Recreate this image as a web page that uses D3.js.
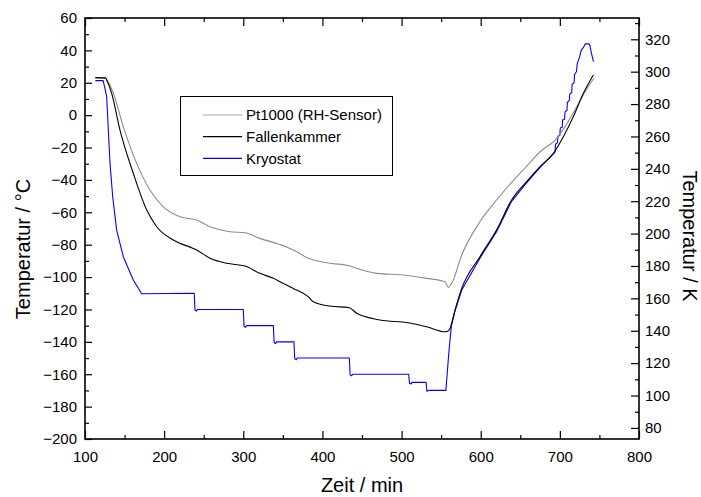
<!DOCTYPE html>
<html><head><meta charset="utf-8">
<script src="https://cdn.jsdelivr.net/npm/d3@7"></script>
<style>body{margin:0;background:#fff}svg{display:block}text{font-family:"Liberation Sans",Arial,sans-serif;fill:#000}</style>
</head><body><svg id="c" width="701" height="497"></svg>
<script>
// ---- data ----
const xTicks = [100,200,300,400,500,600,700,800];
const yTicksC = [-200,-180,-160,-140,-120,-100,-80,-60,-40,-20,0,20,40,60];
const yTicksK = [80,100,120,140,160,180,200,220,240,260,280,300,320];
const seriesNames = ["Pt1000 (RH-Sensor)","Fallenkammer","Kryostat"];
const seriesColors = ["#8c8c8c","#000000","#0000ff"];

const ptTime = [113,125,130,135.8,148.4,165.3,182,199,220,241,258,283,302,321,342,346,365,382,388.5,409.6,434,443,468.5,502,531.7,555,559,563.3,576,599,620,640,660,675,694,706.5,719,732,743];
const ptTemp = [23.2,23,20,13.5,-7.1,-29.8,-46.2,-56.6,-62.7,-64.8,-68.9,-72,-72.6,-76.1,-79.2,-79.8,-83.7,-88.4,-89.5,-91.5,-93,-94.6,-97.7,-98.7,-100.8,-102.9,-106.4,-103.9,-86.4,-65.8,-52.4,-41,-30.5,-22.6,-15.4,-7.1,3.2,14.5,22.8];

const fkTime = [113,126,127.4,133.7,144.2,161,178,190.6,211.6,236.8,240,258,279,302.2,321,338,346.4,363.2,382,388.5,409.6,434,443.3,472.7,508.5,531.7,555,558,561.2,567.5,576,599,620,639,660,675,691.8,704.4,717,729.7,742.3];
const fkTemp = [23.2,23,21.7,13.5,-9.2,-35.9,-58.6,-68.9,-77.1,-82.3,-83,-88.4,-91.5,-93.2,-97.7,-100.8,-102.9,-107,-112.1,-115.2,-117.9,-118.9,-122.4,-126.5,-128.2,-130.7,-133.8,-133.5,-131.7,-120.4,-107,-87.4,-71,-52.4,-40,-31.8,-23.6,-13.3,-1,13.5,24.8];

const krTime = [113,123,127.4,129.5,131.6,135,140,148.4,161,171.6,238,239,241,242,300,301,303,304,338,339,341,342,364,365,367,368,434,435,437,438,509,510,512,513,531,532,534,556,557,560,563,567.5,576,599,620,639,660,675,693.9,694.5,697,697.5,700,700.5,703,703.5,706,706.5,709,709.5,712,712.5,715,715.5,718,718.5,721,722,725,727,730,732,737,738,740,742.5];
const krTemp = [21.3,21.3,11.4,-9.2,-29.8,-50.4,-71,-87.4,-101.8,-110.3,-110,-120.5,-121,-120,-120,-130.5,-131,-130,-130,-140.5,-141,-140,-140,-150.5,-151,-150,-150,-160.5,-161,-160,-160,-165.5,-166,-165,-165,-170.5,-170,-170,-163.6,-145,-130,-121,-108,-88.3,-72,-53.2,-40.6,-32.3,-22.8,-18,-17,-13,-12.5,-8,-7.5,-3,-2.5,2,3,8,9,13,14,19,20,25,27,32,36,40,42,44,44,43,38,33];

// ---- layout ----
const L=85,R=639,T=18,B=439;
const svg=d3.select("#c");
const x=d3.scaleLinear().domain([100,800]).range([L,R]);
const y=d3.scaleLinear().domain([-200,60]).range([B,T]);
const yK=d3.scaleLinear().domain([-200+273.15,60+273.15]).range([B,T]);

const minorX=d3.range(150,800,100);
const minorC=d3.range(-190,60,20);
const minorK=d3.range(90,340,20).filter(v=>yK(v)>=T-0.5&&yK(v)<=B+0.5);

function styleAxis(g){g.select(".domain").remove();g.selectAll("line").attr("stroke","#000").attr("stroke-width",1.2);g.selectAll("text").style("font-size","15px").attr("fill","#000");}

// bottom
svg.append("g").attr("transform",`translate(0,${B})`).call(d3.axisBottom(x).tickValues(xTicks).tickSize(-8).tickPadding(12).tickFormat(d3.format("d"))).call(styleAxis);
svg.append("g").attr("transform",`translate(0,${B})`).call(d3.axisBottom(x).tickValues(minorX).tickSize(-4).tickFormat("")).call(styleAxis);
// top
svg.append("g").attr("transform",`translate(0,${T})`).call(d3.axisTop(x).tickValues(xTicks).tickSize(-8).tickFormat("")).call(styleAxis);
svg.append("g").attr("transform",`translate(0,${T})`).call(d3.axisTop(x).tickValues(minorX).tickSize(-4).tickFormat("")).call(styleAxis);
// left
svg.append("g").attr("transform",`translate(${L},0)`).call(d3.axisLeft(y).tickValues(yTicksC).tickSize(-7).tickPadding(8).tickFormat(d3.format("d"))).call(styleAxis);
svg.append("g").attr("transform",`translate(${L},0)`).call(d3.axisLeft(y).tickValues(minorC).tickSize(-4).tickFormat("")).call(styleAxis);
// right
svg.append("g").attr("transform",`translate(${R},0)`).call(d3.axisRight(yK).tickValues(yTicksK).tickSize(-8).tickPadding(6).tickFormat(d3.format("d"))).call(styleAxis);
svg.append("g").attr("transform",`translate(${R},0)`).call(d3.axisRight(yK).tickValues(minorK).tickSize(-4).tickFormat("")).call(styleAxis);

// frame
svg.append("rect").attr("x",L).attr("y",T).attr("width",R-L).attr("height",B-T).attr("fill","none").attr("stroke","#000").attr("stroke-width",1.6);

// lines
const smooth=d3.line().x(d=>x(d[0])).y(d=>y(d[1])).curve(d3.curveMonotoneX);
const straight=d3.line().x(d=>x(d[0])).y(d=>y(d[1]));
const zipS=(t,v)=>t.map((d,i)=>[d,v[i]]);
const data=[zipS(ptTime,ptTemp),zipS(fkTime,fkTemp),zipS(krTime,krTemp)];
const order=[2,0,1];
order.forEach(i=>{
  svg.append("path").datum(data[i]).attr("d",i===2?straight:smooth).attr("fill","none").attr("stroke",seriesColors[i]).attr("stroke-width",1.1).attr("stroke-linejoin","round");
});

// legend
const lg=svg.append("g");
lg.append("rect").attr("x",180.5).attr("y",96.5).attr("width",212).attr("height",79).attr("fill","#fff").attr("stroke","#000").attr("stroke-width",1);
seriesNames.forEach((n,i)=>{
  const yy=115+i*21.7;
  lg.append("line").attr("x1",203).attr("x2",242).attr("y1",yy).attr("y2",yy).attr("stroke",i===0?"#a8a8a8":seriesColors[i]).attr("stroke-width",1.2);
  lg.append("text").attr("x",246).attr("y",yy).attr("dy","0.36em").style("font-size","15px").text(n);
});

// titles
svg.append("text").attr("transform","translate(30,249) rotate(-90)").attr("text-anchor","middle").style("font-size","20px").text("Temperatur / °C");
svg.append("text").attr("transform","translate(683,236) rotate(90)").attr("text-anchor","middle").style("font-size","20px").text("Temperatur / K");
svg.append("text").attr("x",362).attr("y",492).attr("text-anchor","middle").style("font-size","20px").text("Zeit / min");
</script></body></html>
